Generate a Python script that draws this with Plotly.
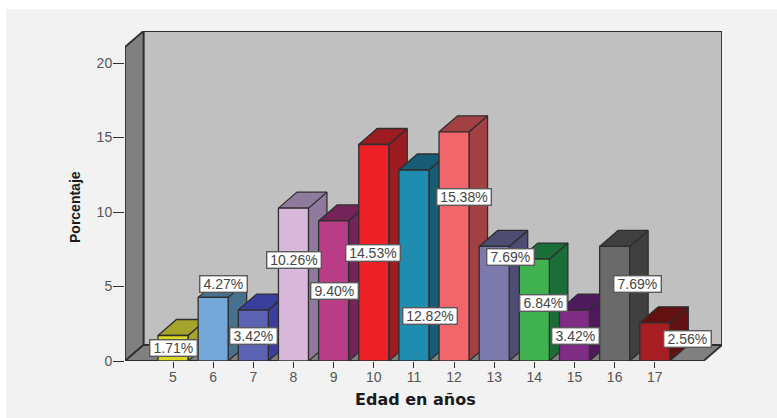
import plotly.graph_objects as go

# Age distribution of the sample
ages = [5, 6, 7, 8, 9, 10, 11, 12, 13, 14, 15, 16, 17]
percentages = [1.71, 4.27, 3.42, 10.26, 9.40, 14.53, 12.82, 15.38, 7.69, 6.84, 3.42, 7.69, 2.56]
y_ticks = [0, 5, 10, 15, 20]

front_colors = ["#dcd822", "#74a8d8", "#5b62b4", "#d8b8da", "#b83d86", "#ee2028", "#1f8cb0",
                "#f0666a", "#7c7aac", "#3fb24f", "#7f2c84", "#696969", "#a61e22"]
depth_colors = ["#a5a52c", "#47708f", "#3a3f9e", "#8f7a9e", "#75245a", "#9c1c22", "#175c75",
                "#a24044", "#4e4c72", "#1b6e38", "#4d1a5c", "#404040", "#621012"]

# Pixel frame of the plotting area
WIDTH, HEIGHT = 777, 418
PLOT_LEFT, PLOT_RIGHT, PLOT_TOP, PLOT_BOTTOM = 125, 722, 31, 361
PLOT_W, PLOT_H = PLOT_RIGHT - PLOT_LEFT, PLOT_BOTTOM - PLOT_TOP
PX_PER_AGE = 40.15
PX_PER_PCT = 14.9
FIRST_AGE_PX = 173

x_min = ages[0] + (PLOT_LEFT - FIRST_AGE_PX) / PX_PER_AGE
x_max = ages[0] + (PLOT_RIGHT - FIRST_AGE_PX) / PX_PER_AGE
y_max = PLOT_H / PX_PER_PCT

# Oblique projection offsets, in axis units
DEPTH_X = 18.5 / PX_PER_AGE
DEPTH_Y = 16 / PX_PER_PCT
HALF_BAR = 15 / PX_PER_AGE

LINE = "#2f2f2f"


def x_of(px):
    return ages[0] + (px - FIRST_AGE_PX) / PX_PER_AGE


def y_of(px):
    return (PLOT_BOTTOM - px) / PX_PER_PCT


def paper_x(px):
    return (px - PLOT_LEFT) / PLOT_W


def paper_y(px):
    return (PLOT_BOTTOM - px) / PLOT_H


def polygon(xs, ys, fill, width=1.3):
    return go.Scatter(
        x=xs + xs[:1], y=ys + ys[:1], mode="lines", fill="toself", fillcolor=fill,
        line=dict(color=LINE, width=width), hoverinfo="skip", showlegend=False,
    )


fig = go.Figure()

# Back wall, left wall and floor of the box
wall_top = y_max - DEPTH_Y
fig.add_trace(polygon([x_min + DEPTH_X, x_max, x_max, x_min + DEPTH_X],
                      [DEPTH_Y, DEPTH_Y, y_max, y_max], "#c0c0c0", 1.8))
fig.add_trace(polygon([x_min, x_min + DEPTH_X, x_min + DEPTH_X, x_min],
                      [0, DEPTH_Y, y_max, wall_top], "#808080", 1.8))
fig.add_trace(polygon([x_min, x_min + DEPTH_X, x_max, x_max - DEPTH_X],
                      [0, DEPTH_Y, DEPTH_Y, 0], "#808080", 1.8))

# Each column: side face, top face, then front face, left to right
for age, pct, front, depth in zip(ages, percentages, front_colors, depth_colors):
    x0, x1 = age - HALF_BAR, age + HALF_BAR
    fig.add_trace(polygon([x1, x1 + DEPTH_X, x1 + DEPTH_X, x1],
                          [0, DEPTH_Y, pct + DEPTH_Y, pct], depth))
    fig.add_trace(polygon([x0, x0 + DEPTH_X, x1 + DEPTH_X, x1],
                          [pct, pct + DEPTH_Y, pct + DEPTH_Y, pct], depth))
    fig.add_trace(polygon([x0, x1, x1, x0], [0, 0, pct, pct], front))

# Centres of the value boxes, in pixels
label_centers = [(173, 348), (223, 284), (253, 336), (294, 260), (334, 291), (373, 253), (430, 316),
                 (464, 197), (510, 257), (543, 303), (575, 336), (637, 284), (687, 339)]

for pct, (cx, cy) in zip(percentages, label_centers):
    text = f"{pct:.2f}%"
    fig.add_annotation(
        x=x_of(cx), y=y_of(cy), xref="x", yref="y", text=text, showarrow=False,
        xanchor="center", yanchor="middle", align="center",
        width=44 if len(text) == 5 else 51, height=13,
        font=dict(family="Liberation Sans", size=14, color="#454545"),
        bgcolor="#ffffff", bordercolor="#5a5a5a", borderwidth=1.4, borderpad=1,
    )

fig.add_annotation(
    x=paper_x(415), y=paper_y(399), xref="paper", yref="paper",
    text="<b>Edad en años</b>", showarrow=False, xanchor="center", yanchor="middle",
    font=dict(family="DejaVu Sans", size=16, color="#1a1a1a"),
)
fig.add_annotation(
    x=paper_x(75), y=paper_y(207), xref="paper", yref="paper",
    text="<b>Porcentaje</b>", showarrow=False, textangle=-90, xanchor="center", yanchor="middle",
    font=dict(family="Liberation Sans", size=14, color="#1a1a1a"),
)

tick_font = dict(family="Liberation Sans", size=14, color="#555555")
fig.update_layout(
    width=WIDTH, height=HEIGHT, autosize=False,
    margin=dict(l=PLOT_LEFT, r=WIDTH - PLOT_RIGHT, t=PLOT_TOP, b=HEIGHT - PLOT_BOTTOM),
    paper_bgcolor="#ffffff", plot_bgcolor="rgba(0,0,0,0)", showlegend=False,
    shapes=[dict(type="rect", xref="paper", yref="paper", layer="below",
                 x0=paper_x(6), x1=paper_x(WIDTH), y0=paper_y(HEIGHT), y1=paper_y(9),
                 fillcolor="#f2f2f2", line=dict(width=0))],
    xaxis=dict(range=[x_min, x_max], tickmode="array", tickvals=ages, ticktext=[str(a) for a in ages],
               ticks="outside", ticklen=6, tickwidth=1.3, tickcolor=LINE, showgrid=False, zeroline=False,
               showline=False, ticklabelstandoff=-3, tickfont=tick_font),
    yaxis=dict(range=[0, y_max], tickmode="array", tickvals=y_ticks, ticktext=[str(v) for v in y_ticks],
               ticks="outside", ticklen=11, tickwidth=1.3, tickcolor=LINE, showgrid=False, zeroline=False,
               showline=False, ticklabelstandoff=-2, tickfont=tick_font),
)

fig.write_html("out.html", config=dict(displayModeBar=False))
